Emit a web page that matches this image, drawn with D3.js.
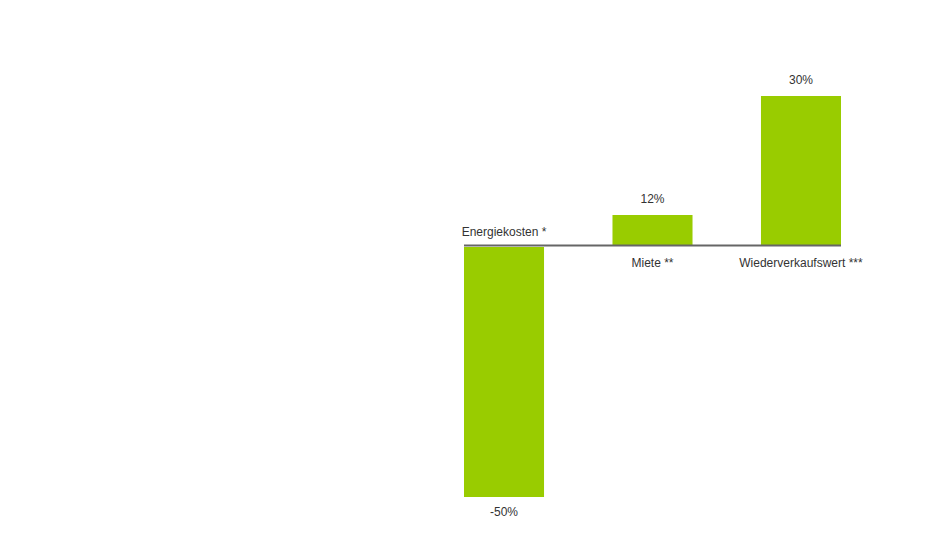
<!DOCTYPE html>
<html>
<head>
<meta charset="utf-8">
<script src="https://cdn.jsdelivr.net/npm/d3@7"></script>
<style>
  html, body { margin: 0; padding: 0; background: #fff; }
  svg { display: block; font-family: "Liberation Sans", Arial, sans-serif; }
</style>
</head>
<body>
<svg id="chart" width="940" height="540"></svg>
<script>
// Data
const categories = ["Energiekosten *", "Miete **", "Wiederverkaufswert ***"];
const barValues = [-50, 6.2, 30];          // bar heights (%)
const valueLabels = ["-50%", "12%", "30%"]; // printed value labels
const yDomain = [-50, 30];

const svg = d3.select("#chart");

const x = d3.scaleBand()
  .domain(categories)
  .range([464, 841])
  .paddingInner(0.461)
  .paddingOuter(0);

const y = d3.scaleLinear()
  .domain(yDomain)
  .range([496, 96]);

const data = categories.map((c, i) => ({ cat: c, v: barValues[i], label: valueLabels[i] }));

// Bars
svg.append("g").selectAll("rect")
  .data(data)
  .join("rect")
  .attr("x", d => x(d.cat))
  .attr("width", x.bandwidth())
  .attr("y", d => d.v >= 0 ? y(d.v) : y(0) + 1)
  .attr("height", d => d.v >= 0 ? y(0) - y(d.v) - 1 : y(d.v) - y(0))
  .attr("fill", "#99cc00");

// Zero line
svg.append("line")
  .attr("x1", x.range()[0])
  .attr("x2", x.range()[1])
  .attr("y1", y(0) - 0.5)
  .attr("y2", y(0) - 0.5)
  .attr("stroke", "#666666")
  .attr("stroke-width", 2);

// Value labels
svg.append("g").selectAll("text")
  .data(data)
  .join("text")
  .attr("x", d => x(d.cat) + x.bandwidth() / 2)
  .attr("y", d => d.v >= 0 ? y(d.v) - 12 : y(d.v) + 20)
  .attr("text-anchor", "middle")
  .attr("font-size", 12)
  .attr("fill", "#333333")
  .text(d => d.label);

// Category labels (on the opposite side of the zero line)
svg.append("g").selectAll("text")
  .data(data)
  .join("text")
  .attr("x", d => x(d.cat) + x.bandwidth() / 2)
  .attr("y", d => d.v >= 0 ? y(0) + 21 : y(0) - 10)
  .attr("text-anchor", "middle")
  .attr("font-size", 12)
  .attr("fill", "#333333")
  .text(d => d.cat);
</script>
</body>
</html>
